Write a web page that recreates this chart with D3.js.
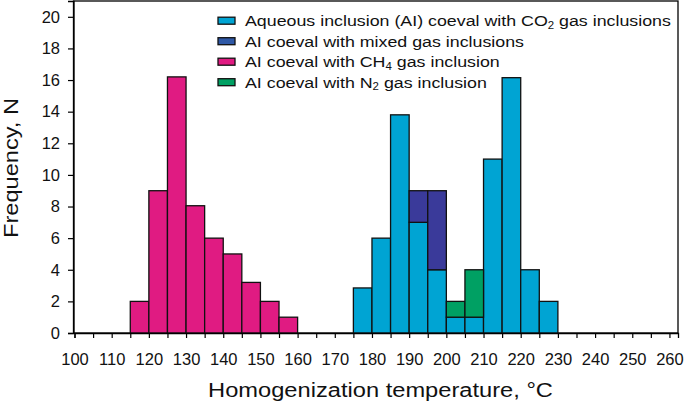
<!DOCTYPE html>
<html><head><meta charset="utf-8">
<script src="https://cdn.jsdelivr.net/npm/d3@7"></script>
<style>
body{margin:0;background:#fff;}
svg{display:block;font-family:"Liberation Sans",Arial,sans-serif;}
</style></head>
<body>
<svg id="c" width="685" height="405"></svg>
<script>
// Data: 5 °C bins, value = frequency
const ch4Bins   = [115,120,125,130,135,140,145,150,155];
const ch4Values = [2, 9, 16.2, 8.05, 6, 5, 3.2, 2, 1];
const co2Bins   = [175,180,185,190,195,200,205,210,215,220,225];
const co2Values = [2.85, 6, 13.8, 7, 4, 1, 1, 11, 16.15, 4, 2];
const mixedValues = [0, 0, 0, 2, 5, 0, 0, 0, 0, 0, 0];
const n2Values    = [0, 0, 0, 0, 0, 1, 3, 0, 0, 0, 0];
const binWidth = 5;
const xMinor = d3.range(100, 261, 5);
const yTicks = d3.range(0, 21, 2);
const legendItems = [
  {key:"co2", parts:[["Aqueous inclusion (AI) coeval with CO",false],["2",true],[" gas inclusions",false]]},
  {key:"mixed", parts:[["AI coeval with mixed gas inclusions",false]]},
  {key:"ch4", parts:[["AI coeval with CH",false],["4",true],[" gas inclusion",false]]},
  {key:"n2", parts:[["AI coeval with N",false],["2",true],[" gas inclusion",false]]}
];
const colors = {co2:"#00a4d3", mixed:"#3a3a9a", ch4:"#e01b82", n2:"#00a063"};
const legendColors = {co2:"#00a4d3", mixed:"#2e58a6", ch4:"#e01b82", n2:"#00a063"};

const svg = d3.select("#c");
const L = 73.5, R = 678, T = 1, B = 333;
const x = d3.scaleLinear().domain([100, 262.3]).range([L+1, R]);
const y = d3.scaleLinear().domain([0, 21]).range([B, T]);

// frame
svg.append("rect").attr("x", L).attr("y", T).attr("width", R-L).attr("height", B-T)
  .attr("fill","none").attr("stroke","#000").attr("stroke-width",1.3);

const g = svg.append("g");
function bars(bins, base, vals, color){
  g.selectAll(null).data(bins.map((b,i)=>({b, y0:base[i], v:vals[i]})).filter(d=>d.v>0))
    .enter().append("rect")
    .attr("x", d=>x(d.b)).attr("width", d=>x(d.b+binWidth)-x(d.b))
    .attr("y", d=>y(d.y0+d.v)).attr("height", d=>y(d.y0)-y(d.y0+d.v))
    .attr("fill", color).attr("stroke","#111").attr("stroke-width",1.3);
}
bars(ch4Bins, ch4Bins.map(()=>0), ch4Values, colors.ch4);
bars(co2Bins, co2Bins.map(()=>0), co2Values, colors.co2);
bars(co2Bins, co2Values, mixedValues, colors.mixed);
bars(co2Bins, co2Values, n2Values, colors.n2);

// x axis
const xa = svg.append("g").attr("transform",`translate(0,${B})`)
  .call(d3.axisBottom(x).tickValues(xMinor).tickSize(5).tickFormat(d=> d%10===0? d : ""));
xa.select(".domain").attr("stroke","#000").attr("stroke-width",1.3);
xa.selectAll(".tick line").attr("stroke","#000").attr("stroke-width",1.2);
xa.selectAll(".tick text").attr("font-size",16.5).attr("fill","#111").attr("dy","1.45em")
  .attr("font-family","'Liberation Sans',Arial,sans-serif");

// y axis
const ya = svg.append("g").attr("transform",`translate(${L},0)`)
  .call(d3.axisLeft(y).tickValues(yTicks).tickSize(5.5).tickPadding(8));
ya.select(".domain").attr("stroke","#000").attr("stroke-width",1.3);
ya.selectAll(".tick line").attr("stroke","#000").attr("stroke-width",1.2);
ya.selectAll(".tick text").attr("font-size",16.5).attr("fill","#111")
  .attr("font-family","'Liberation Sans',Arial,sans-serif");

// titles (reference font is horizontally wider; stretch to match)
function stretch(sel, target){
  const w = sel.node().getComputedTextLength();
  return target / w;
}
const xt = svg.append("text").attr("text-anchor","middle")
  .attr("font-size",20).attr("fill","#111").text("Homogenization temperature, °C");
xt.attr("transform",`translate(380.5,396.5) scale(${stretch(xt,345)},1)`);
const yt = svg.append("text").attr("text-anchor","middle")
  .attr("font-size",21).attr("fill","#111").text("Frequency, N");
yt.attr("transform",`translate(18.3,168) rotate(-90) scale(${stretch(yt,140)},1)`);

// legend
const lg = svg.append("g");
let sx = null;
legendItems.forEach((it,i)=>{
  const cy = 20.7 + i*20.5;
  lg.append("rect").attr("x",218).attr("y",cy-3.5).attr("width",17).attr("height",7)
    .attr("fill",legendColors[it.key]).attr("stroke","#111").attr("stroke-width",1.3);
  const t = lg.append("text").attr("x",0).attr("y",0).attr("font-size",15.5).attr("fill","#111");
  it.parts.forEach(([s,sub],j)=>{
    const sp = t.append("tspan").text(s);
    if(sub) sp.attr("font-size",10).attr("dy",2.5);
    else if(j>0) sp.attr("dy",-2.5);
  });
  if(sx===null) sx = 426 / t.node().getComputedTextLength();
  t.attr("transform",`translate(245,${cy+5.6}) scale(${sx},1)`);
});
</script>
</body></html>
